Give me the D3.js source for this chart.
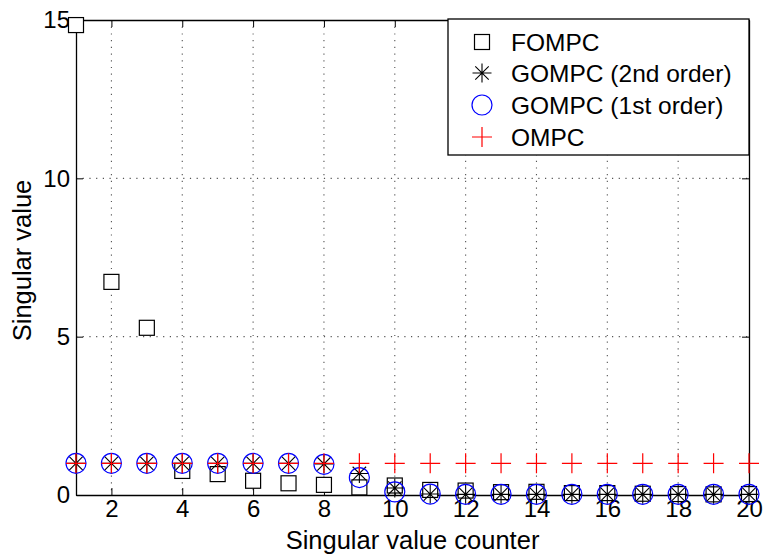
<!DOCTYPE html>
<html>
<head>
<meta charset="utf-8">
<script src="https://cdn.jsdelivr.net/npm/d3@7"></script>
<style>
  body { margin: 0; background: #fff; }
  text { font-family: "Liberation Sans", Arial, Helvetica, sans-serif; }
</style>
</head>
<body>
<svg id="chart"></svg>
<script>
// singular value counter (x)
const counter = [1, 2, 3, 4, 5, 6, 7, 8, 9, 10, 11, 12, 13, 14, 15, 16, 17, 18, 19, 20];
// series values
const fompc  = [14.84, 6.73, 5.28, 0.76, 0.66, 0.45, 0.37, 0.32, 0.24, 0.30, 0.16, 0.14, 0.09, 0.10, 0.06, 0.06, 0.04, 0.03, 0.02, 0.03];
const gompc2 = [1.00, 1.00, 1.00, 1.00, 1.00, 1.00, 1.00, 0.98, 0.68, 0.22, 0.03, 0.02, 0.02, 0.02, 0.02, 0.02, 0.02, 0.02, 0.02, 0.02];
const gompc1 = [1.00, 1.00, 1.00, 1.00, 1.00, 1.00, 1.00, 0.97, 0.55, 0.10, 0.03, 0.02, 0.02, 0.02, 0.02, 0.02, 0.02, 0.02, 0.02, 0.02];
const ompc   = [1.00, 1.00, 1.00, 1.00, 1.00, 1.00, 1.00, 1.00, 1.00, 1.00, 1.00, 1.00, 1.00, 1.00, 1.00, 1.00, 1.00, 1.00, 1.00, 1.00];
// tick labels
const xTicks = [2, 4, 6, 8, 10, 12, 14, 16, 18, 20];
const yTicks = [0, 5, 10, 15];
const seriesNames = ["FOMPC", "GOMPC (2nd order)", "GOMPC (1st order)", "OMPC"];

const width = 765, height = 554;
const margin = { top: 20, right: 16, bottom: 59, left: 76 };
const innerW = width - margin.left - margin.right;
const innerH = height - margin.top - margin.bottom;

const svg = d3.select("#chart").attr("width", width).attr("height", height);
svg.append("rect").attr("width", width).attr("height", height).attr("fill", "#fff");

const chart = svg.append("g").attr("transform", `translate(${margin.left},${margin.top})`);

const xscale = d3.scaleLinear().domain([1, 20]).range([0, innerW]);
const yscale = d3.scaleLinear().domain([0, 15]).range([innerH, 0]);

// grid (dotted)
const grid = chart.append("g").attr("stroke", "#555").attr("stroke-dasharray", "1.2,5.5").attr("stroke-width", 1.1);
grid.selectAll(".gx").data(xTicks.filter(d => d < 20)).enter().append("line")
    .attr("x1", d => xscale(d)).attr("x2", d => xscale(d))
    .attr("y1", 0).attr("y2", innerH);
grid.selectAll(".gy").data(yTicks.filter(d => d > 0 && d < 15)).enter().append("line")
    .attr("x1", 0).attr("x2", innerW)
    .attr("y1", d => yscale(d)).attr("y2", d => yscale(d));

// axes, ticks inside
const fontSize = "24px";
const xaxis = d3.axisBottom(xscale).tickValues(xTicks).tickSize(-7).tickPadding(5).tickSizeOuter(0);
const yaxis = d3.axisLeft(yscale).tickValues(yTicks).tickSize(-7).tickPadding(6).tickSizeOuter(0);

const xg = chart.append("g").attr("transform", `translate(0,${innerH})`).call(xaxis);
const yg = chart.append("g").call(yaxis);
chart.append("g").call(d3.axisTop(xscale).tickValues(xTicks).tickSize(-7).tickSizeOuter(0).tickFormat(""));
chart.append("g").attr("transform", `translate(${innerW},0)`)
    .call(d3.axisRight(yscale).tickValues(yTicks).tickSize(-7).tickSizeOuter(0).tickFormat(""));

chart.selectAll(".domain").attr("stroke", "#000").attr("stroke-width", 1.3);
chart.selectAll(".tick line").attr("stroke", "#000");
[xg, yg].forEach(g => g.selectAll("text")
    .attr("font-size", fontSize).attr("fill", "#000")
    .style("font-family", '"Liberation Sans", Arial, sans-serif'));

// axis labels
svg.append("text")
    .attr("x", margin.left + innerW / 2).attr("y", 549)
    .attr("text-anchor", "middle").attr("font-size", "25.5px")
    .text("Singular value counter");
svg.append("text")
    .attr("transform", `translate(31,${margin.top + innerH / 2 + 3}) rotate(-90)`)
    .attr("text-anchor", "middle").attr("font-size", "25.5px")
    .text("Singular value");

// marker shapes
const starPath = r => {
    const d = r * Math.SQRT1_2;
    return `M${-r},0L${r},0M0,${-r}L0,${r}M${-d},${-d}L${d},${d}M${-d},${d}L${d},${-d}`;
};
const plusPath = r => `M${-r},0L${r},0M0,${-r}L0,${r}`;

function drawSquare(g, x, y) {
    g.append("rect").attr("x", x - 7.5).attr("y", y - 7.5).attr("width", 15).attr("height", 15)
        .attr("fill", "#fff").attr("stroke", "#000").attr("stroke-width", 1.2);
}
function drawStar(g, x, y) {
    g.append("path").attr("transform", `translate(${x},${y})`).attr("d", starPath(9.5))
        .attr("fill", "none").attr("stroke", "#000").attr("stroke-width", 1.1);
}
function drawCircle(g, x, y) {
    g.append("circle").attr("cx", x).attr("cy", y).attr("r", 10)
        .attr("fill", "none").attr("stroke", "#0000ff").attr("stroke-width", 1.2);
}
function drawPlus(g, x, y) {
    g.append("path").attr("transform", `translate(${x},${y})`).attr("d", plusPath(10))
        .attr("fill", "none").attr("stroke", "#ff0000").attr("stroke-width", 1.2);
}

const series = [
    { values: fompc, draw: drawSquare },
    { values: gompc2, draw: drawStar },
    { values: gompc1, draw: drawCircle },
    { values: ompc, draw: drawPlus }
];

const marks = chart.append("g");
series.forEach(s => {
    const g = marks.append("g");
    counter.forEach((c, i) => s.draw(g, xscale(c), yscale(s.values[i])));
});

// legend
const legend = svg.append("g").attr("transform", "translate(448,19)");
legend.append("rect").attr("width", 301).attr("height", 136)
    .attr("fill", "#fff").attr("stroke", "#000").attr("stroke-width", 1.3);
const rowY = [23, 54, 86, 118];
series.forEach((s, i) => {
    s.draw(legend, 34, rowY[i]);
    legend.append("text").attr("x", 63).attr("y", rowY[i]).attr("dy", "0.36em")
        .attr("font-size", "24.5px").text(seriesNames[i]);
});
</script>
</body>
</html>
